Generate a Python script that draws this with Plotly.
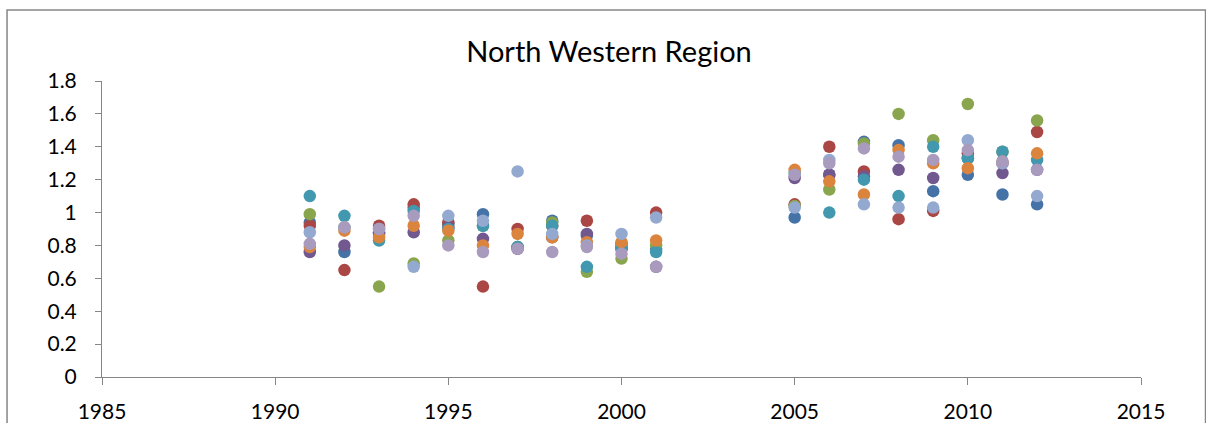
import plotly.graph_objects as go

years = [1991, 1992, 1993, 1994, 1995, 1996, 1997, 1998, 1999, 2000, 2001,
         2005, 2006, 2007, 2008, 2009, 2010, 2011, 2012]

s_blue = [0.94, 0.76, 0.87, 1.03, 0.93, 0.99, 0.79, 0.95, 0.86, 0.79, 0.78,
          0.97, 1.23, 1.43, 1.41, 1.13, 1.23, 1.11, 1.05]
s_red = [0.92, 0.65, 0.92, 1.05, 0.94, 0.55, 0.90, 0.92, 0.95, 0.81, 1.00,
         1.05, 1.40, 1.25, 0.96, 1.01, 1.36, 1.30, 1.49]
s_green = [0.99, 0.91, 0.55, 0.69, 0.83, 0.92, 0.79, 0.94, 0.64, 0.72, 0.80,
           1.04, 1.14, 1.42, 1.60, 1.44, 1.66, 1.37, 1.56]
s_purple = [0.76, 0.80, 0.88, 0.88, 0.91, 0.84, 0.78, 0.85, 0.87, 0.78, 0.67,
            1.21, 1.23, 1.22, 1.26, 1.21, 1.33, 1.24, 1.26]
s_teal = [1.10, 0.98, 0.83, 1.01, 0.90, 0.92, 0.79, 0.92, 0.67, 0.78, 0.76,
          1.24, 1.00, 1.20, 1.10, 1.40, 1.33, 1.37, 1.32]
s_orange = [0.79, 0.89, 0.85, 0.92, 0.89, 0.80, 0.87, 0.85, 0.82, 0.82, 0.83,
            1.26, 1.19, 1.11, 1.38, 1.30, 1.27, 1.31, 1.36]
s_lightblue = [0.88, 0.91, 0.90, 0.67, 0.98, 0.95, 1.25, 0.87, 0.80, 0.87, 0.97,
               1.03, 1.32, 1.05, 1.03, 1.03, 1.44, 1.30, 1.10]
s_lightpurple = [0.81, 0.91, 0.90, 0.98, 0.80, 0.76, 0.78, 0.76, 0.79, 0.75, 0.67,
                 1.23, 1.30, 1.39, 1.34, 1.32, 1.38, 1.31, 1.26]

series = [
    (s_blue, "#4572A7"),
    (s_red, "#AA4643"),
    (s_green, "#89A54E"),
    (s_purple, "#71588F"),
    (s_teal, "#4198AF"),
    (s_orange, "#DB843D"),
    (s_lightblue, "#93A9CF"),
    (s_lightpurple, "#A99BBD"),
]

fig = go.Figure()
for vals, col in series:
    fig.add_trace(go.Scatter(x=years, y=vals, mode="markers",
                             marker=dict(size=12.5, color=col, line=dict(width=0)),
                             showlegend=False))

font = "Lato, 'Open Sans', sans-serif"
fig.update_layout(
    width=1206, height=423,
    margin=dict(l=102, r=65, t=81, b=46, autoexpand=False),
    paper_bgcolor="white", plot_bgcolor="white",
    font=dict(family=font, size=21, color="black"),
    title=dict(text="North Western Region", x=0.505, xanchor="center",
               y=1 - 52 / 423, yanchor="middle", font=dict(size=29, family=font)),
    xaxis=dict(range=[1985, 2015], tickmode="array",
               tickvals=[1985, 1990, 1995, 2000, 2005, 2010, 2015],
               showgrid=False, zeroline=False, showline=True, linecolor="#868686",
               linewidth=1, ticks="outside", ticklen=7, tickcolor="#868686",
               tickfont=dict(size=21), ticklabelstandoff=9, automargin=False),
    yaxis=dict(range=[0, 1.8], tickmode="array",
               tickvals=[0, 0.2, 0.4, 0.6, 0.8, 1, 1.2, 1.4, 1.6, 1.8],
               ticktext=["0", "0.2", "0.4", "0.6", "0.8", "1", "1.2", "1.4", "1.6", "1.8"],
               showgrid=False, zeroline=False, showline=True, linecolor="#868686",
               linewidth=1, ticks="outside", ticklen=6, tickcolor="#868686",
               tickfont=dict(size=21), ticklabelstandoff=14, automargin=False),
    shapes=[dict(type="rect", xref="paper", yref="paper",
                 x0=-0.0914, x1=1.0621, y0=-0.2, y1=1.2399,
                 line=dict(color="#868686", width=1.5), fillcolor="rgba(0,0,0,0)",
                 layer="below")],
)

fig.write_html("out.html")
